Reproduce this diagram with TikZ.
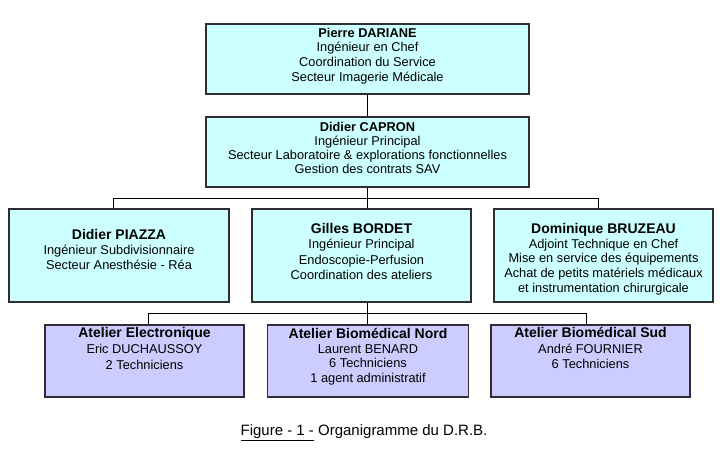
\documentclass[tikz,border=0pt]{standalone}
\usepackage{fontspec}
\setmainfont{Liberation Sans}
\usepackage{tikz}
\usetikzlibrary{positioning,calc}

\definecolor{cyanbox}{RGB}{204,255,255}
\definecolor{lilacbox}{RGB}{204,204,255}
\definecolor{rimgray}{RGB}{45,45,50}

\newcommand{\chefname}[1]{{\fontsize{14}{15}\selectfont\bfseries #1}}

\begin{document}
\begin{tikzpicture}[x=1pt, y=-1pt,
    chef/.style={draw=rimgray, line width=1.2pt, fill=cyanbox, align=center, inner sep=0pt, font=\fontsize{12.8}{14.8}\selectfont},
    atelier/.style={draw=rimgray, line width=1.2pt, fill=lilacbox, align=center, inner sep=0pt, font=\fontsize{12.8}{15}\selectfont},
    link/.style={draw=black, line width=0.9pt}
]
\useasboundingbox (0,0) rectangle (720,464);

% Direction
\node[chef, minimum width=323pt, text height=57.5pt, text depth=12.5pt] (dariane) at (367.5,59) {\textbf{Pierre DARIANE}\\Ingénieur en Chef\\Coordination du Service\\Secteur Imagerie Médicale};
\node[chef, minimum width=323pt, text height=56.5pt, text depth=13.5pt, font=\fontsize{12.8}{13.9}\selectfont] (capron) at (367.5,152) {\textbf{Didier CAPRON}\\Ingénieur Principal\\Secteur Laboratoire \& explorations fonctionnelles\\Gestion des contrats SAV};

% Three sectors in a row
\node[chef, minimum width=220pt, text height=60.5pt, text depth=32.5pt] (piazza) at (119,255.5) {\chefname{Didier PIAZZA}\\Ingénieur Subdivisionnaire\\Secteur Anesthésie - Réa};
\node[chef, minimum width=219pt, text height=70.5pt, text depth=22.5pt, font=\fontsize{12.8}{15.5}\selectfont] (bordet) at (361.5,255.5) {\chefname{Gilles BORDET}\\Ingénieur Principal\\Endoscopie-Perfusion\\Coordination des ateliers};
\node[chef, minimum width=219pt, text height=83.5pt, text depth=9.5pt] (bruzeau) at (603.5,255.5) {\chefname{Dominique BRUZEAU}\\Adjoint Technique en Chef\\Mise en service des équipements\\Achat de petits matériels médicaux\\et instrumentation chirurgicale};

% Ateliers (text at top of box)
\node[atelier, minimum width=199pt, text height=44.5pt, text depth=27.5pt, font=\fontsize{12.8}{16}\selectfont] (electro) at (144.5,361) {\chefname{Atelier Electronique}\\Eric DUCHAUSSOY\\2 Techniciens};
\node[atelier, minimum width=201pt, text height=57.5pt, text depth=14.5pt, font=\fontsize{12.8}{14.7}\selectfont] (nord) at (368,361) {\chefname{Atelier Biomédical Nord}\\Laurent BENARD\\6 Techniciens\\1 agent administratif};
\node[atelier, minimum width=199pt, text height=43.5pt, text depth=28.5pt, font=\fontsize{12.8}{15.5}\selectfont] (sud) at (590.5,361) {\chefname{Atelier Biomédical Sud}\\André FOURNIER\\6 Techniciens};

% Links
\draw[link] (dariane.south) -- (capron.north);
\draw[link] (capron.south) -- (capron.south |- bordet.north);
\draw[link] (capron.south) ++(0,11) -| ([xshift=-6pt]piazza.north);
\draw[link] (capron.south) ++(0,11) -| ([xshift=-5.5pt]bruzeau.north);
\draw[link] (bordet.south -| capron.south) -- (nord.north -| capron.south);
\draw[link] (bordet.south -| capron.south) ++(0,11) -| ([xshift=3.5pt]electro.north);
\draw[link] (bordet.south -| capron.south) ++(0,11) -| ([xshift=-4.5pt]sud.north);

% Caption
\node[font=\fontsize{15}{17}\selectfont] (caption) at (364,433) {\underline{Figure - 1 -} Organigramme du D.R.B.};
\end{tikzpicture}
\end{document}
